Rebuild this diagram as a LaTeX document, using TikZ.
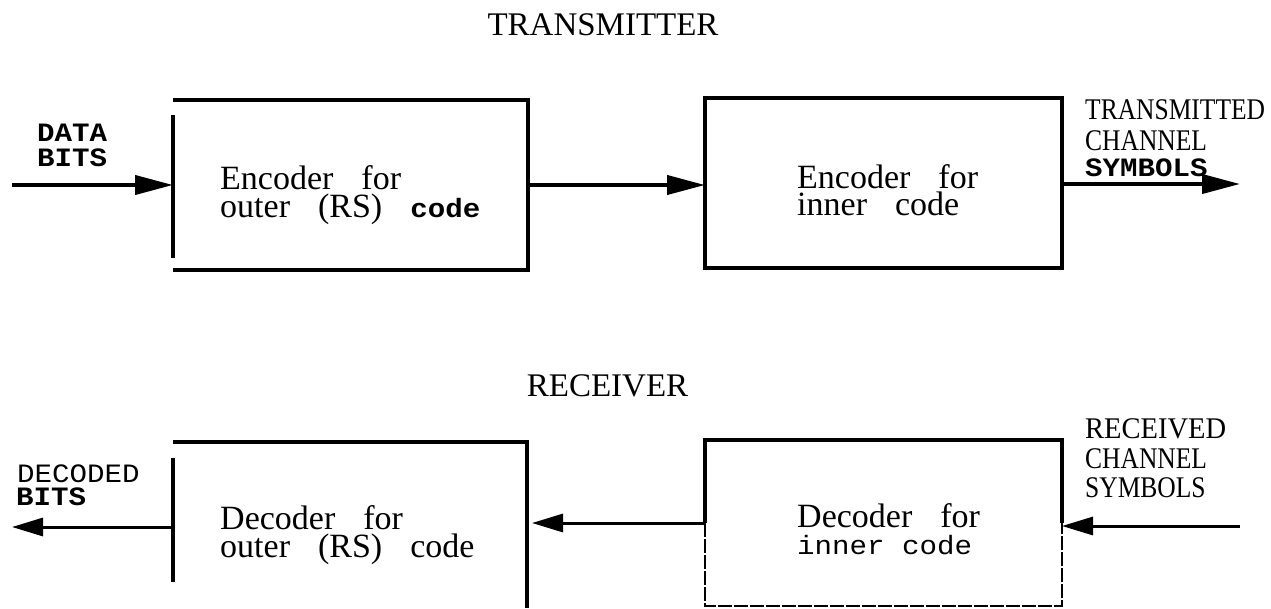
\documentclass[tikz,border=0pt]{standalone}
\usepackage{fontspec}
\setmainfont{Liberation Serif}
\setmonofont{Liberation Mono}
\newfontfamily\condfont{Liberation Serif}[FakeStretch=0.85]
\newfontfamily\condfontw{Liberation Serif}[FakeStretch=0.95]
\newfontfamily\monowide{Liberation Mono}[FakeStretch=1.1]
\usetikzlibrary{arrows.meta}
\newcommand{\boxfont}{\fontsize{34}{30}\selectfont\spaceskip 28pt\relax}
\newcommand{\monofont}{\fontsize{26.5}{30}\selectfont\monowide}
\begin{document}
\begin{tikzpicture}[x=1pt,y=-1pt,
  box/.style={draw=none,rectangle,inner sep=0pt,outer sep=0pt},
  edge/.style={line width=4pt,line join=miter},
  edgeL/.style={line width=3.4pt},
  edgeT/.style={line width=1.8pt,dash pattern=on 14pt off 2pt},
  arrA/.style={line width=4pt,-{Triangle[length=38pt,width=19pt]}},
  arrB/.style={line width=3pt,-{Triangle[length=31pt,width=18pt]}},
  title/.style={font=\fontsize{33}{36}\selectfont,inner sep=0pt,anchor=base},
  bt/.style={font=\boxfont,inner sep=0pt,anchor=base west},
  mono/.style={font=\monofont,inner sep=0pt,anchor=base west},
  monob/.style={font=\monofont\bfseries,inner sep=0pt,anchor=base west},
  cond/.style={font=\fontsize{30}{30}\selectfont\condfont,inner sep=0pt,anchor=base west},
  condw/.style={font=\fontsize{30}{30}\selectfont\condfontw,inner sep=0pt,anchor=base west}]
\useasboundingbox (0,0) rectangle (1271,608);
\fill[white] (0,0) rectangle (1271,608);

% boxes
\node[box,minimum width=355pt,minimum height=170pt] (enc1) at (350.5,185) {};
\node[box,minimum width=357pt,minimum height=170pt] (enc2) at (883.5,183) {};
\node[box,minimum width=354pt,minimum height=166pt] (dec1) at (350,525) {};
\node[box,minimum width=357pt,minimum height=166pt] (dec2) at (883.5,523) {};

\draw[edge] (enc1.north west) -- (enc1.north east) -- (enc1.south east) -- (enc1.south west);
\draw[edgeL] ([yshift=-15pt]enc1.north west) -- ([yshift=12pt]enc1.south west);
\draw[edge] (enc2.north west) rectangle (enc2.south east);
\draw[edge] (dec1.north west) -- (dec1.north east) -- (dec1.south east);
\draw[edgeL] ([yshift=-16pt]dec1.north west) -- ([yshift=26pt]dec1.south west);
\draw[edge] (dec2.west) -- (dec2.north west) -- (dec2.north east) -- (dec2.east);
\draw[edgeT] (dec2.west) -- (dec2.south west) -- (dec2.south east) -- (dec2.east);

% connectors
\coordinate (din) at (12,185);
\coordinate (tout) at (1240,184);
\coordinate (rin) at (1240,526);
\coordinate (dout) at (12,527);
\draw[arrA] (din) -- (enc1.west);
\draw[arrA] (enc1.east) -- (enc2.west |- enc1.east);
\draw[arrA] (enc2.east |- tout) -- (tout);
\draw[arrB] (rin) -- (rin -| dec2.east);
\draw[arrB,shorten >=5pt] (dec2.west) -- (dec2.west -| dec1.east);
\draw[arrB] (dec1.west |- dout) -- (dout);

% titles
\node[title] (ttx) at (603,35) {TRANSMITTER};
\node[title] (trx) at (607.5,396) {RECEIVER};

% box texts
\node[bt] (e1a) at (220,189) {Encoder for};
\node[bt] (e1b) at (220,217) {outer (RS) {\monofont\bfseries code}};
\node[bt] (e2a) at (797,188) {Encoder for};
\node[bt] (e2b) at (797,215) {inner code};
\node[bt] (d1a) at (220,529) {Decoder for};
\node[bt] (d1b) at (220,557) {outer (RS) code};
\node[bt] (d2a) at (797,527) {Decoder for};
\node[mono] (d2b) at (797,554) {inner code};

% side labels
\node[monob] (l1) at (37,141) {DATA};
\node[monob] (l2) at (37,166) {BITS};
\node[mono] (l3) at (17,482) {DECODED};
\node[monob] (l4) at (16,505) {BITS};
\node[cond] (r1) at (1085,119) {TRANSMITTED};
\node[cond] (r2) at (1085,150) {CHANNEL};
\node[monob] (r3) at (1085,176) {SYMBOLS};
\node[condw] (s1) at (1085,438) {RECEIVED};
\node[cond] (s2) at (1085,468) {CHANNEL};
\node[cond] (s3) at (1085,497) {SYMBOLS};
\end{tikzpicture}
\end{document}
